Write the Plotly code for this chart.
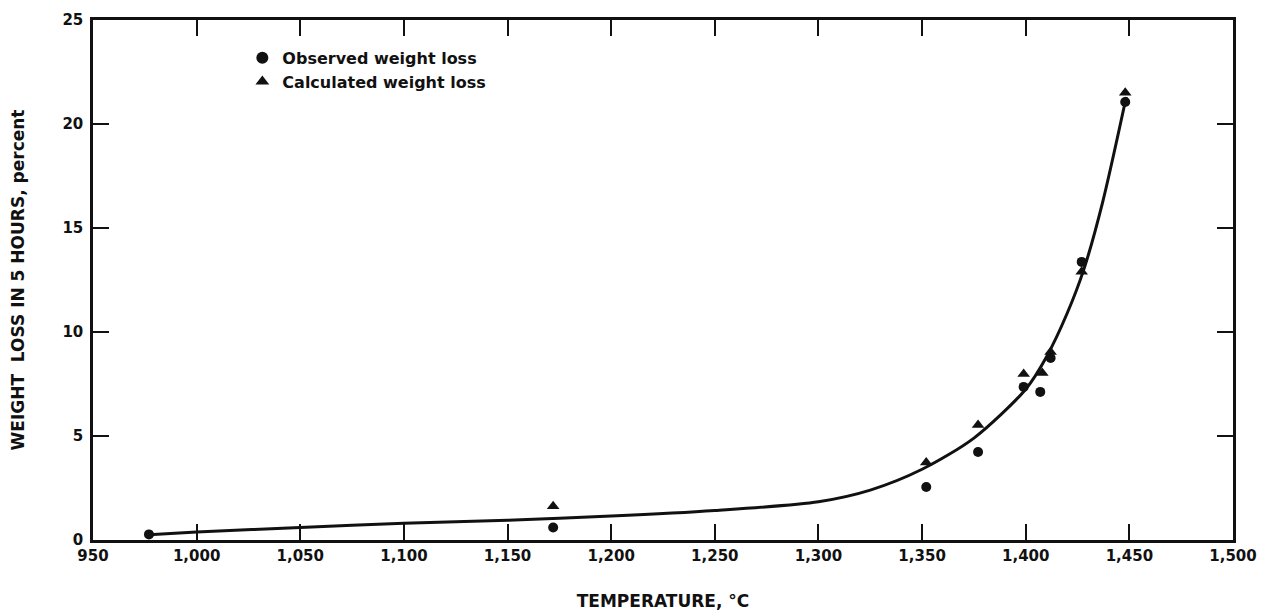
import plotly.graph_objects as go

# Observed weight loss (circles)
obs_temp = [977, 1172, 1352, 1377, 1399, 1407, 1412, 1427, 1448]
obs_loss = [0.27, 0.6, 2.55, 4.23, 7.36, 7.12, 8.75, 13.37, 21.06]

# Calculated weight loss (triangles)
calc_temp = [1172, 1352, 1377, 1399, 1408, 1412, 1427, 1448]
calc_loss = [1.62, 3.72, 5.53, 7.98, 8.03, 9.04, 12.9, 21.5]

# Fitted curve
curve_temp = [977, 1000, 1050, 1100, 1150, 1200, 1250, 1300, 1325, 1350, 1375, 1400, 1410, 1420, 1428, 1437, 1448.5]
curve_loss = [0.25, 0.38, 0.6, 0.8, 0.95, 1.15, 1.42, 1.84, 2.4, 3.4, 4.9, 7.25, 8.8, 10.9, 13.0, 16.2, 21.3]

x_ticks = [950, 1000, 1050, 1100, 1150, 1200, 1250, 1300, 1350, 1400, 1450, 1500]
x_tick_labels = ["950", "1,000", "1,050", "1,100", "1,150", "1,200", "1,250", "1,300", "1,350", "1,400", "1,450", "1,500"]
y_ticks = [0, 5, 10, 15, 20, 25]

FONT = "DejaVu Sans"
INK = "#111111"

fig = go.Figure()
fig.add_trace(go.Scatter(
    x=curve_temp, y=curve_loss, mode="lines",
    line=dict(color=INK, width=3, shape="spline", smoothing=0.8),
    showlegend=False, hoverinfo="skip"))
fig.add_trace(go.Scatter(
    x=obs_temp, y=obs_loss, mode="markers", name="Observed weight loss",
    marker=dict(symbol="circle", size=10, color=INK)))
fig.add_trace(go.Scatter(
    x=calc_temp, y=calc_loss, mode="markers", name="Calculated weight loss",
    marker=dict(symbol="triangle-up", size=11, color=INK)))

axis_common = dict(
    showline=True, linecolor=INK, linewidth=2.5, mirror="allticks",
    ticks="inside", ticklen=16, tickwidth=2, tickcolor=INK,
    showgrid=False, zeroline=False, automargin=False,
    tickfont=dict(family=FONT, size=15, color=INK, weight="bold"),
)

fig.update_layout(
    width=1264, height=612,
    margin=dict(l=93, r=31, t=20, b=72),
    paper_bgcolor="white", plot_bgcolor="white",
    xaxis=dict(range=[950, 1500], tickvals=x_ticks, ticktext=x_tick_labels,
               title=dict(text="TEMPERATURE, °C", standoff=32,
                          font=dict(family=FONT, size=17, color=INK, weight="bold")),
               **axis_common),
    yaxis=dict(range=[0, 25], tickvals=y_ticks, ticklabelstandoff=4,
               title=dict(text="WEIGHT  LOSS IN 5 HOURS, percent", standoff=34,
                          font=dict(family=FONT, size=17, color=INK, weight="bold")),
               **axis_common),
    legend=dict(x=0.131, y=0.96, xanchor="left", yanchor="top",
                bgcolor="rgba(0,0,0,0)",
                font=dict(family=FONT, size=16, color=INK, weight="bold"),
                itemsizing="constant", tracegroupgap=0),
)

fig.write_html("out.html")
